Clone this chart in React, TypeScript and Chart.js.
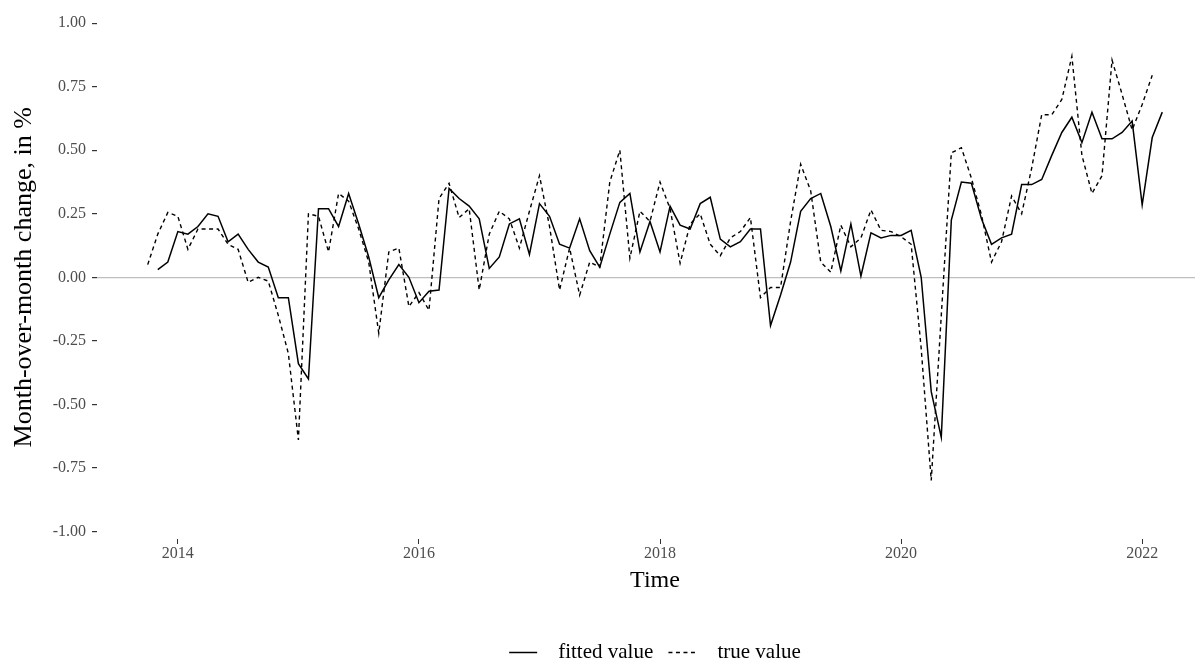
import React, { useEffect, useRef } from "react";
import { Chart, registerables } from "chart.js";

Chart.register(...registerables);

// Monthly series. true value starts Oct 2013, fitted value starts Nov 2013.
const TRUE_START = 2013 + 9 / 12;
const FITTED_START = 2013 + 10 / 12;

const trueValues: number[] = [
  0.05, 0.17, 0.255,
  0.24, 0.11, 0.19, 0.19, 0.19, 0.13, 0.11, -0.02, 0.0, -0.015, -0.15, -0.30,
  -0.64, 0.25, 0.24, 0.10, 0.33, 0.30, 0.19, 0.06, -0.22, 0.10, 0.115, -0.115,
  -0.06, -0.13, 0.31, 0.37, 0.235, 0.27, -0.05, 0.17, 0.26, 0.23, 0.115, 0.26,
  0.40, 0.20, -0.05, 0.115, -0.07, 0.06, 0.04, 0.375, 0.50, 0.075, 0.26, 0.22,
  0.375, 0.27, 0.055, 0.21, 0.25, 0.13, 0.085, 0.155, 0.18, 0.235, -0.08, -0.04,
  -0.04, 0.22, 0.445, 0.34, 0.06, 0.02, 0.205, 0.12, 0.155, 0.265, 0.185, 0.18,
  0.16, 0.13, -0.28, -0.80, -0.15, 0.49, 0.51, 0.39, 0.245, 0.06, 0.14, 0.32,
  0.25, 0.43, 0.64, 0.64, 0.70, 0.87, 0.48, 0.33, 0.40, 0.855, 0.72, 0.58,
  0.68, 0.795,
];

const fittedValues: number[] = [
  0.03, 0.06,
  0.18, 0.17, 0.20, 0.25, 0.24, 0.14, 0.17, 0.11, 0.06, 0.04, -0.08, -0.08,
  -0.34, -0.40, 0.27, 0.27, 0.20, 0.33, 0.21, 0.08, -0.08, -0.01, 0.05, 0.0,
  -0.10, -0.055, -0.05, 0.35, 0.31, 0.28, 0.23, 0.035, 0.08, 0.21, 0.23, 0.09,
  0.29, 0.24, 0.13, 0.115, 0.23, 0.105, 0.04, 0.17, 0.295, 0.33, 0.10, 0.22,
  0.10, 0.28, 0.205, 0.19, 0.29, 0.315, 0.15, 0.12, 0.14, 0.19, 0.19, -0.19,
  -0.07, 0.06, 0.26, 0.31, 0.33, 0.20, 0.025, 0.21, 0.005, 0.175, 0.155, 0.165,
  0.165, 0.185, 0.0, -0.45, -0.63, 0.225, 0.375, 0.37, 0.23, 0.13, 0.155, 0.17,
  0.365, 0.365, 0.385, 0.48, 0.57, 0.63, 0.53, 0.65, 0.545, 0.545, 0.57, 0.615,
  0.285, 0.55, 0.65,
];

const xTickValues: number[] = [2014, 2016, 2018, 2020, 2022];
const yTickValues: number[] = [-1, -0.75, -0.5, -0.25, 0, 0.25, 0.5, 0.75, 1];

const SERIF = "'Liberation Serif', 'Times New Roman', Times, serif";

export default function App() {
  const canvasRef = useRef<HTMLCanvasElement>(null);

  useEffect(() => {
    const canvas = canvasRef.current;
    if (!canvas) return;
    const toPoints = (vals: number[], start: number) =>
      vals.map((v, i) => ({ x: start + i / 12, y: v }));

    // data range with a 5% expansion on each side
    const dataMin = TRUE_START;
    const dataMax = FITTED_START + (fittedValues.length - 1) / 12;
    const span = dataMax - dataMin;
    const xMin = dataMin - 0.05 * span;
    const xMax = dataMax + 0.05 * span;

    const chart = new Chart(canvas, {
      type: "line",
      data: {
        datasets: [
          {
            label: "fitted value",
            data: toPoints(fittedValues, FITTED_START),
            borderColor: "#000000",
            backgroundColor: "#000000",
            borderWidth: 1.5,
            pointRadius: 0,
            tension: 0,
            fill: false,
          },
          {
            label: "true value",
            data: toPoints(trueValues, TRUE_START),
            borderColor: "#000000",
            backgroundColor: "#000000",
            borderWidth: 1.4,
            borderDash: [4, 3.5],
            pointRadius: 0,
            tension: 0,
            fill: false,
          },
        ],
      },
      options: {
        animation: false,
        responsive: false,
        maintainAspectRatio: false,
        events: [],
        layout: { padding: { left: 0, right: 7, top: 13, bottom: -12 } },
        scales: {
          x: {
            type: "linear",
            min: xMin,
            max: xMax,
            afterBuildTicks: (s: any) => {
              s.ticks = xTickValues.map((v) => ({ value: v }));
            },
            afterFit: (s: any) => {
              s.height = 93;
            },
            ticks: {
              color: "#4d4d4d",
              font: { family: SERIF, size: 16 },
              padding: 0,
              maxRotation: 0,
              autoSkip: false,
              callback: (v: any) => String(v),
            },
            grid: {
              drawOnChartArea: false,
              drawTicks: true,
              tickLength: 5,
              tickColor: "#333333",
              color: "rgba(0,0,0,0)",
            },
            border: { display: false },
            title: {
              display: true,
              text: "Time",
              color: "#000000",
              font: { family: SERIF, size: 24 },
              padding: { top: 0, bottom: 37 },
            },
          },
          y: {
            type: "linear",
            min: -1.03,
            max: 1.03,
            afterBuildTicks: (s: any) => {
              s.ticks = yTickValues.map((v) => ({ value: v }));
            },
            afterFit: (s: any) => {
              s.width = 97;
            },
            ticks: {
              color: "#4d4d4d",
              font: { family: SERIF, size: 16 },
              padding: 6,
              autoSkip: false,
              callback: (v: any) => Number(v).toFixed(2),
            },
            grid: {
              drawTicks: true,
              tickLength: 5,
              tickColor: "#333333",
              lineWidth: 1.2,
              color: (ctx: any) =>
                ctx.tick && Math.abs(ctx.tick.value) < 1e-9 ? "#bebebe" : "rgba(0,0,0,0)",
            },
            border: { display: false },
            title: {
              display: true,
              text: "Month-over-month change, in %",
              color: "#000000",
              font: { family: SERIF, size: 26 },
              padding: { top: 9, bottom: 0 },
            },
          },
        },
        plugins: {
          tooltip: { enabled: false },
          legend: {
            display: true,
            position: "bottom",
            fullSize: false,
            labels: {
              usePointStyle: true,
              pointStyleWidth: 28,
              padding: 10,
              color: "#000000",
              font: { family: SERIF, size: 21 },
              generateLabels: (ch: any) =>
                ch.data.datasets.map((ds: any, i: number) => ({
                  text: "  " + ds.label + (i === 0 ? " " : ""),
                  fillStyle: "#000000",
                  strokeStyle: "#000000",
                  lineWidth: 1.5,
                  lineDash: ds.borderDash || [],
                  pointStyle: "line",
                  hidden: false,
                  datasetIndex: i,
                })),
            },
          },
        },
      },
    } as any);

    return () => chart.destroy();
  }, []);

  return (
    <div
      style={{
        position: "fixed",
        left: 0,
        top: 0,
        width: 1195,
        height: 661,
        overflow: "hidden",
        background: "#ffffff",
      }}
    >
      <canvas ref={canvasRef} width={1220} height={661} style={{ display: "block" }} />
    </div>
  );
}
